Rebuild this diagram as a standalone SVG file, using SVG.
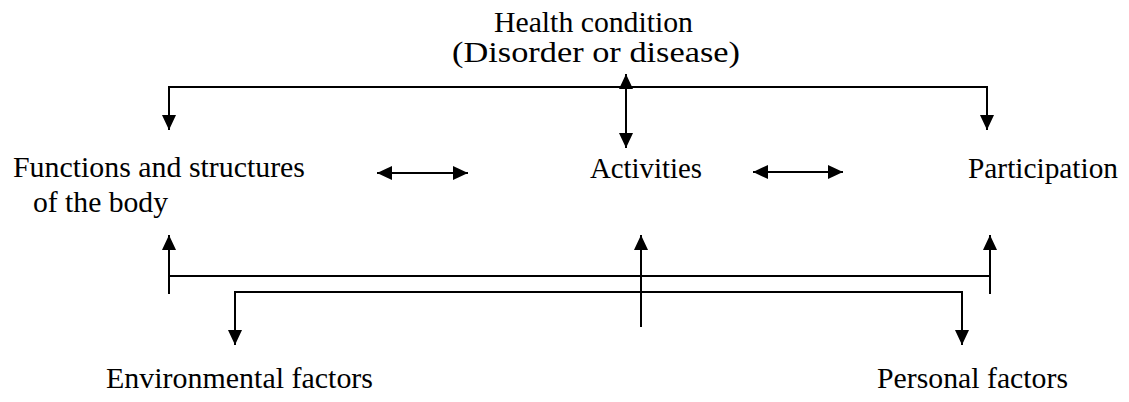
<svg xmlns="http://www.w3.org/2000/svg" width="1129" height="402" viewBox="0 0 1129 402">
<style>
text{font-family:"Liberation Serif","Times New Roman",Times,serif;font-size:30px;fill:#000}
.ln{stroke:#000;stroke-width:2;fill:none}
</style>
<defs>
<marker id="ah" markerUnits="userSpaceOnUse" markerWidth="16" markerHeight="16" viewBox="0 0 16 16" refX="15" refY="8" orient="auto-start-reverse">
<path d="M0,1 L15,8 L0,15 Z" fill="#000"/>
</marker>
</defs>
<rect width="1129" height="402" fill="#fff"/>
<g id="health"><text x="494" y="32" textLength="199" lengthAdjust="spacingAndGlyphs">Health condition</text><text x="452" y="62" textLength="288" lengthAdjust="spacingAndGlyphs">(Disorder or disease)</text></g>
<g id="functions"><text x="13" y="177" textLength="292" lengthAdjust="spacingAndGlyphs">Functions and structures</text><text x="33" y="212" textLength="135" lengthAdjust="spacingAndGlyphs">of the body</text></g>
<g id="activities"><text x="590" y="178" textLength="112" lengthAdjust="spacingAndGlyphs">Activities</text></g>
<g id="participation"><text x="968" y="178" textLength="150" lengthAdjust="spacingAndGlyphs">Participation</text></g>
<g id="environmental"><text x="106" y="388" textLength="267" lengthAdjust="spacingAndGlyphs">Environmental factors</text></g>
<g id="personal"><text x="877" y="388" textLength="191" lengthAdjust="spacingAndGlyphs">Personal factors</text></g>
<g id="connectors">
<path class="ln" d="M169,130 V87 H987 V130" marker-start="url(#ah)" marker-end="url(#ah)"/>
<path class="ln" d="M626,74 V148" marker-start="url(#ah)" marker-end="url(#ah)"/>
<path class="ln" d="M377,173 H468" marker-start="url(#ah)" marker-end="url(#ah)"/>
<path class="ln" d="M753,172 H843" marker-start="url(#ah)" marker-end="url(#ah)"/>
<path class="ln" d="M169,276 H990"/>
<path class="ln" d="M169,294 V235" marker-end="url(#ah)"/>
<path class="ln" d="M990,294 V235" marker-end="url(#ah)"/>
<path class="ln" d="M641,327 V235" marker-end="url(#ah)"/>
<path class="ln" d="M235,345 V292 H962 V345" marker-start="url(#ah)" marker-end="url(#ah)"/>
</g>
</svg>
